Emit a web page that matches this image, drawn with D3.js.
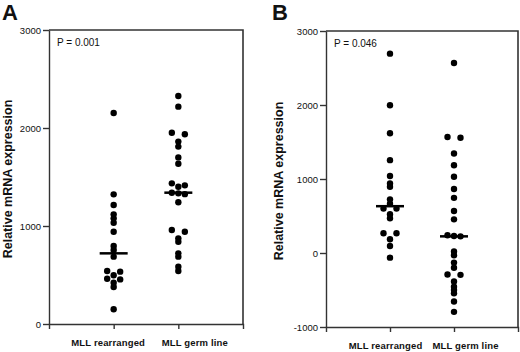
<!DOCTYPE html>
<html>
  <head>
    <meta charset="utf-8">
    <title>MLL dot plots</title>
    <script src="https://d3js.org/d3.v7.min.js"></script>
    <style>
      body { margin: 0; background: #fff; }
      text { font-family: "Liberation Sans", Arial, sans-serif; fill: #111; }
      .tick text { font-size: 9.5px; }
      .cat-label { font-size: 10.5px; font-weight: bold; letter-spacing: 0.15px; }
      .axis-label { font-size: 12.5px; font-weight: bold; }
      .panel-letter { font-size: 22px; font-weight: bold; }
      .p-value { font-size: 10px; }
      .domain, .tick line { stroke: #333; stroke-width: 1.4; }
    </style>
  </head>
  <body>
    <div id="chart"></div>
    <script>
      const categories = ["MLL rearranged", "MLL germ line"];
      const panelLetters = ["A", "B"];
      const pValues = ["P = 0.001", "P = 0.046"];
      const yTitle = "Relative mRNA expression";

      // panel A values
      const aRearranged = [2153, 1323, 1214, 1119, 1078, 1033, 942, 796, 755, 687,
        541, 534, 497, 462, 455, 421, 378, 150];
      const aGermLine = [2327, 2218, 1952, 1936, 1861, 1810, 1700, 1635, 1435, 1415,
        1401, 1340, 1333, 1325, 1242, 959, 942, 874, 840, 721, 687, 585, 541];
      const aTicks = [0, 1000, 2000, 3000];

      // panel B values
      const bRearranged = [2694, 1996, 1618, 1255, 1040, 940, 895, 725, 665, 600,
        600, 523, 469, 266, 266, 185, 95, -63];
      const bGermLine = [2568, 1568, 1558, 1345, 1185, 1030, 865, 745, 568, 455,
        240, 230, 225, 20, -30, -130, -200, -290, -295, -385, -455, -500, -545, -655, -795];
      const bTicks = [-1000, 0, 1000, 2000, 3000];

      const svg = d3
        .select("#chart")
        .append("svg")
        .attr("width", 520)
        .attr("height", 352);

      const panels = [
        { left: 49, right: 243, top: 30, bottom: 324, letterX: 2, titleX: 11.5, labelDx: [-6, 16],
          series: [aRearranged, aGermLine], ticks: aTicks, p: pValues[0], letter: panelLetters[0] },
        { left: 326, right: 518, top: 31, bottom: 327, letterX: 272, titleX: 283, labelDx: [-5, 11],
          series: [bRearranged, bGermLine], ticks: bTicks, p: pValues[1], letter: panelLetters[1] },
      ];

      // prism-like layout: near-equal values share a row, spread left/right
      function swarm(values, y, cx, step) {
        const sorted = values.slice().sort((a, b) => b - a);
        const rows = [];
        sorted.forEach((v) => {
          const last = rows[rows.length - 1];
          if (last && Math.abs(y(v) - y(last[0])) < 3) last.push(v);
          else rows.push([v]);
        });
        const out = [];
        rows.forEach((row) => {
          const n = row.length;
          let slots = d3.range(n).map((i) => i - (n - 1) / 2);
          if (n % 2 === 0) slots = slots.map((s) => (s < 0 ? Math.floor(s) : Math.ceil(s)));
          row.forEach((v, i) => out.push({ v: v, x: cx + slots[i] * step }));
        });
        return out;
      }

      panels.forEach((p) => {
        const g = svg.append("g");
        const x = d3.scalePoint().domain(categories).range([p.left, p.right]).padding(1);
        const y = d3
          .scaleLinear()
          .domain([p.ticks[0], p.ticks[p.ticks.length - 1]])
          .range([p.bottom, p.top]);

        // frame top + right
        g.append("path")
          .attr("d", `M${p.left},${p.top}H${p.right}V${p.bottom}`)
          .attr("fill", "none")
          .attr("stroke", "#333")
          .attr("stroke-width", 1.6);

        const xAxis = g
          .append("g")
          .attr("transform", `translate(0,${p.bottom})`)
          .call(d3.axisBottom(x).tickSize(5).tickSizeOuter(5).tickFormat(""));
        xAxis
          .selectAll(".tick")
          .append("text")
          .attr("class", "cat-label")
          .attr("text-anchor", "middle")
          .attr("y", 22)
          .attr("x", (d, i) => p.labelDx[i])
          .text((d) => d);

        g.append("g")
          .attr("transform", `translate(${p.left},0)`)
          .call(d3.axisLeft(y).tickValues(p.ticks).tickSize(6).tickPadding(2).tickSizeOuter(0).tickFormat((d) => String(d)));

        categories.forEach((c, i) => {
          const vals = p.series[i];
          const pts = swarm(vals, y, x(c), 6.5);
          g.selectAll(null)
            .data(pts)
            .enter()
            .append("circle")
            .attr("cx", (d) => d.x)
            .attr("cy", (d) => y(d.v))
            .attr("r", 3.2)
            .attr("fill", "#000");
          const med = d3.median(vals);
          g.append("line")
            .attr("x1", x(c) - 14)
            .attr("x2", x(c) + 14)
            .attr("y1", y(med))
            .attr("y2", y(med))
            .attr("stroke", "#000")
            .attr("stroke-width", 2.5);
        });

        g.append("text")
          .attr("class", "p-value")
          .attr("x", p.left + 8)
          .attr("y", p.top + 16)
          .text(p.p);

        g.append("text")
          .attr("class", "panel-letter")
          .attr("x", p.letterX)
          .attr("y", 20)
          .text(p.letter);

        g.append("text")
          .attr("class", "axis-label")
          .attr("transform", `translate(${p.titleX},${(p.top + p.bottom) / 2 + 2}) rotate(-90)`)
          .attr("text-anchor", "middle")
          .text(yTitle);
      });
    </script>
  </body>
</html>
